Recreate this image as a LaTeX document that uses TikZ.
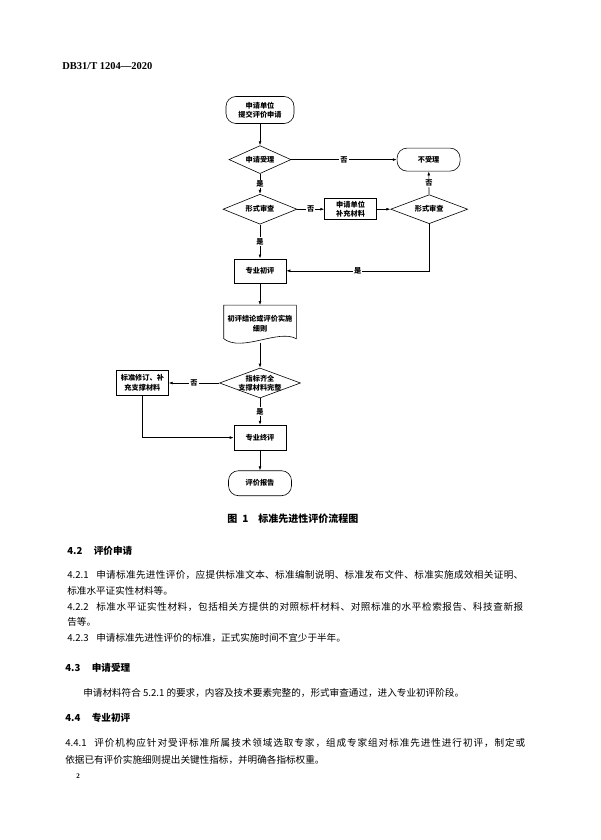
\documentclass[tikz,border=0pt]{standalone}
\usepackage{fontspec}
\setmainfont{Liberation Serif}
\newfontfamily\cjk{Noto Sans CJK SC}
\usepackage{tikz}
\usetikzlibrary{positioning}
\usetikzlibrary{shapes.geometric}
\usetikzlibrary{arrows.meta}
\newcommand\flowfont{\cjk\bfseries\fontsize{7.2}{9.5}\selectfont}
\newcommand\bodyfont{\cjk\fontsize{9.6}{11}\selectfont}
% glue between characters of a justified line
\def\jglue{\hskip 0pt plus 1fil\relax}
\def\spreadit#1#2{#1\ifx#2\relax\else\jglue\expandafter\spreadit\expandafter#2\fi}
\tikzset{main node/.style={shape=rectangle,
    draw, align=center, inner sep=1pt,
    minimum width=52pt, minimum height=24pt, font=\flowfont}}
\tikzset{end node/.style={main node, rounded corners=10pt}}
\tikzset{test node/.style={shape=diamond, aspect=2.7,
    draw, align=center, inner sep=-3pt, font=\flowfont}}
\tikzset{doc node/.style={shape=rectangle, align=center,
    minimum width=72pt, minimum height=37pt, font=\flowfont}}
\tikzset{edge label/.style={fill=white, inner sep=1pt, font=\flowfont}}
\tikzset{body text/.style={anchor=west, inner sep=0pt, font=\bodyfont}}
\tikzset{head text/.style={body text, font=\bodyfont\bfseries}}

\begin{document}
\begin{tikzpicture}[x=1pt,y=-1pt,line width=0.6pt,>={Latex[length=4pt,width=2.8pt]}]
    \fill[white] (0,0) rectangle (600,840);
    \useasboundingbox (0,0) rectangle (600,840);

    \node[anchor=west, inner sep=0pt, font=\bfseries\fontsize{10.5}{12}\selectfont] (0) at (62,66) {DB31/T 1204—2020};

    \node[end node, minimum width=68pt, minimum height=27pt] (1) at (260,110) {申请单位\\提交评价申请};
    \node[test node, minimum width=62pt, minimum height=28pt] (2) [below = 21.5pt of 1] {申请受理};
    \node[end node, minimum width=63pt, minimum height=23pt] (3) [right = 105.5pt of 2] {不受理};
    \node[test node, minimum width=74pt, minimum height=30pt] (4) [below = 20pt of 2] {形式审查};
    \node[main node, minimum height=21pt] (5) [right = 27pt of 4] {申请单位\\补充材料};
    \node[test node, minimum width=77pt, minimum height=29pt] (6) [right = 13.5pt of 5] {形式审查};

    \node[main node] (7) [below = 34pt of 4] {专业初评};
    \node[doc node] (8) [below = 22pt of 7] {初评结论或评价实施\\细则};
    \draw (8.north east) -- (8.north west) -- ([yshift=4pt]8.south west)
        .. controls ([xshift=18pt,yshift=-10pt]8.south west) and ([xshift=-18pt,yshift=14pt]8.south east) .. ([yshift=4pt]8.south east) -- cycle;

    \node[test node, minimum width=81pt, minimum height=30pt] (9) [below = 25pt of 8] {指标齐全\\支撑材料完整};
    \node[main node, minimum height=25pt] (10) [left = 50.5pt of 9] {标准修订、补\\充支撑材料};
    \node[main node, minimum height=25pt] (11) [below = 26.5pt of 9] {专业终评};
    \node[end node, minimum width=63pt, minimum height=25pt] (12) [below = 20pt of 11] {评价报告};

    \path[draw,->]
    (1) edge (2)
    (2) edge node[edge label] {否} (3)
    (2) edge node[edge label] {是} (4)
    (4) edge node[edge label] {否} (5)
    (5) edge (6)
    (6) edge node[edge label] {否} (3)
    (4) edge node[edge label] {是} (7)

    (7) edge (8)
    (8) edge (9)
    (9) edge node[edge label] {否} (10)
    (9) edge node[edge label] {是} (11)
    (11) edge (12)
    ;
    \draw[->] (6) |- node[edge label, pos=0.75] {是} (7);
    \draw[->] (10) |- (11);

    % caption and text of the page
    \node[anchor=west, inner sep=0pt, font=\cjk\bfseries\fontsize{10}{12}\selectfont] (13) at (227,519) {图\hspace{0.5em}1\hspace{1em}标准先进性评价流程图};

    \node[head text] (14) at (67,551) {4.2\hspace{1.2em}评价申请};
    \node[body text] (15) at (67,575) {\makebox[456pt][s]{4.2.1\hspace{0.8em}\spreadit 申请标准先进性评价，应提供标准文本、标准编制说明、标准发布文件、标准实施成效相关证明、\relax}};
    \node[body text] (16) at (67,591) {标准水平证实性材料等。};
    \node[body text] (17) at (67,607) {\makebox[456pt][s]{4.2.2\hspace{0.8em}\spreadit 标准水平证实性材料，包括相关方提供的对照标杆材料、对照标准的水平检索报告、科技查新报\relax}};
    \node[body text] (18) at (67,622) {告等。};
    \node[body text] (19) at (67,638) {4.2.3\hspace{0.8em}申请标准先进性评价的标准，正式实施时间不宜少于半年。};

    \node[head text] (20) at (65,668) {4.3\hspace{1.2em}申请受理};
    \node[body text] (21) at (83,693) {申请材料符合 5.2.1 的要求，内容及技术要素完整的，形式审查通过，进入专业初评阶段。};

    \node[head text] (22) at (65,718) {4.4\hspace{1.2em}专业初评};
    \node[body text] (23) at (65,743) {\makebox[460pt][s]{4.4.1\hspace{0.8em}\spreadit 评价机构应针对受评标准所属技术领域选取专家，组成专家组对标准先进性进行初评，制定或\relax}};
    \node[body text] (24) at (65,760) {依据已有评价实施细则提出关键性指标，并明确各指标权重。};

    \node[anchor=west, inner sep=0pt, font=\bfseries\fontsize{7}{8}\selectfont] (25) at (76,776) {2};
\end{tikzpicture}
\end{document}
